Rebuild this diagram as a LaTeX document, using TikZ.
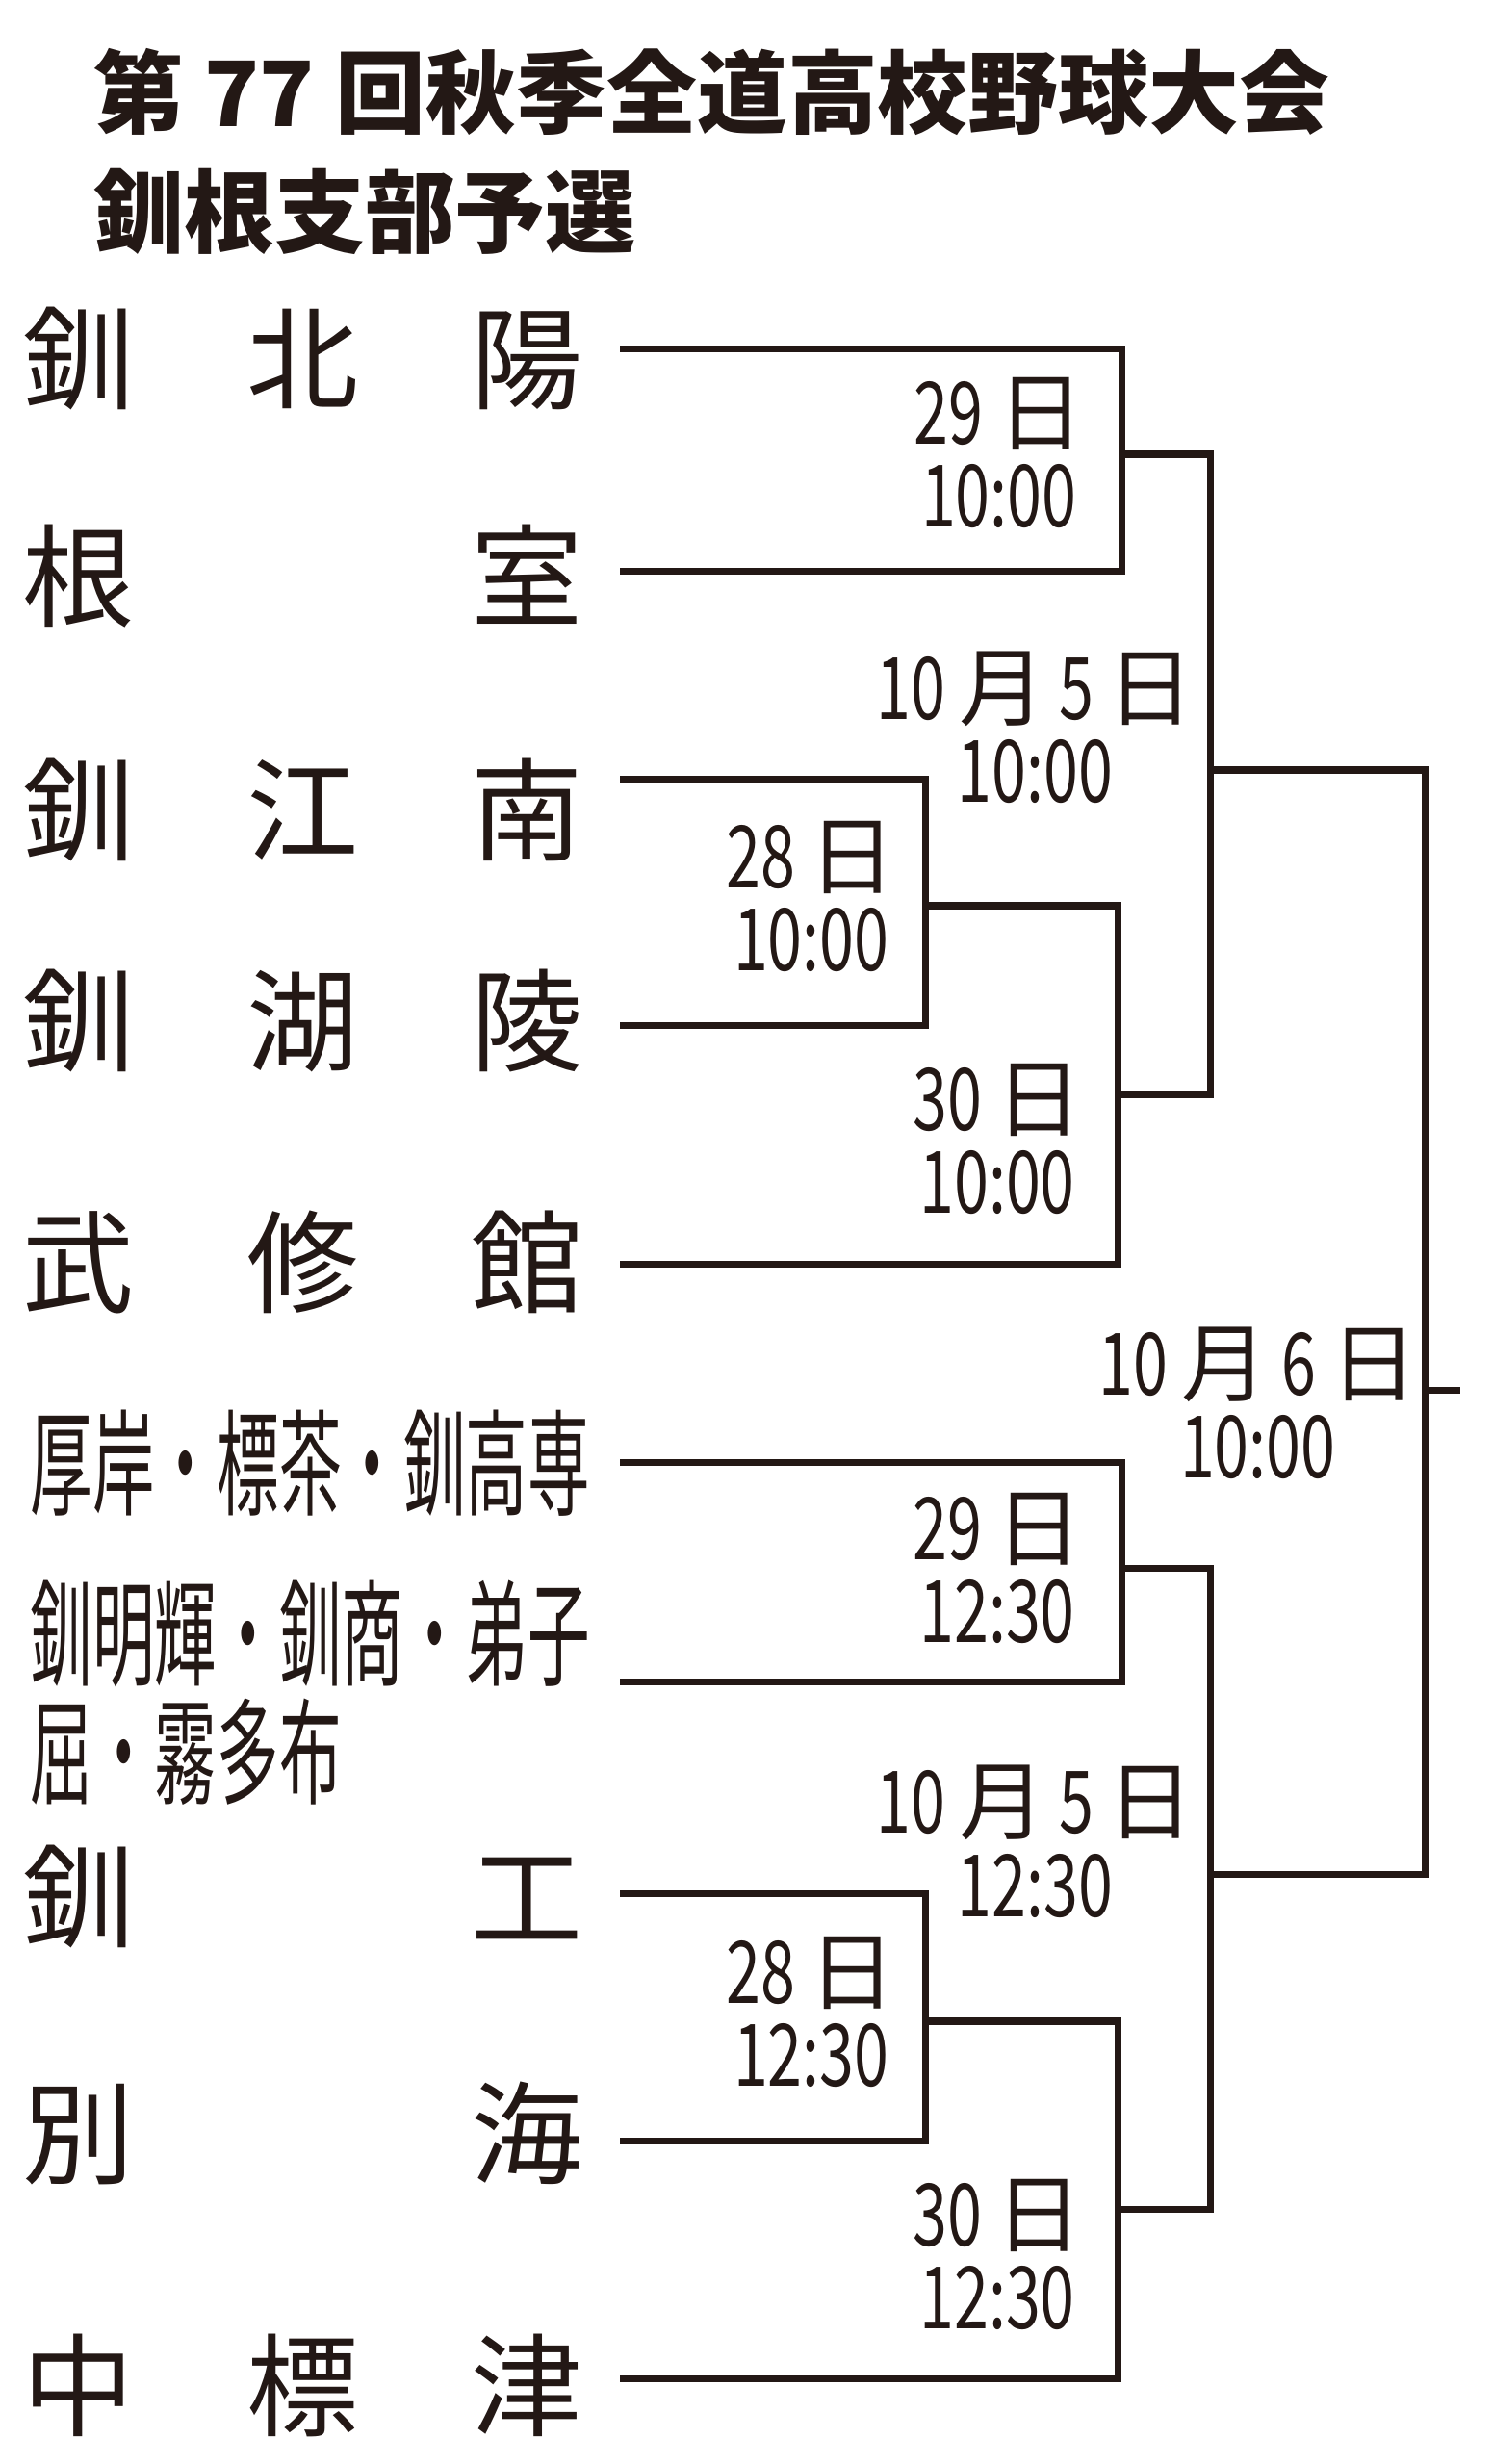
\documentclass[tikz,border=0pt]{standalone}
\usepackage{fontspec}
\setmainfont{Noto Sans CJK JP}
\newfontfamily\teamfont{Noto Sans CJK JP}
\newfontfamily\narrowfont[FakeStretch=0.54]{Noto Sans CJK JP}
\newfontfamily\datefont[FakeStretch=0.72]{Noto Sans CJK JP}
\newfontfamily\dayfont{Noto Sans CJK JP}
\newcommand{\kanji}[1]{{\dayfont #1}}
\definecolor{ink}{RGB}{35,24,21}

\begin{document}
\begin{tikzpicture}[
x=0.016395cm, y=-0.016395cm,
every node/.style={inner sep=0pt, text=ink},
titlenode/.style={anchor=north west, align=left, font=\fontsize{26.7}{35.4}\selectfont\bfseries},
teamnode/.style={anchor=west, text width=5.82cm, align=left, font=\teamfont\fontsize{33}{33}\selectfont},
smallnode/.style={anchor=west, align=left, font=\narrowfont\fontsize{34}{35}\selectfont},
datenode/.style={align=center, font=\datefont\fontsize{25.5}{24.5}\selectfont},
bracket/.style={draw=ink, line width=2.1pt},
]
    \fill[white] (0,0) rectangle (946,1561.5);
    \useasboundingbox (0,0) rectangle (946,1561.5);

    \node[titlenode](title) at (59,30) {第 77 回秋季全道高校野球大会\\釧根支部予選};

    % schools
    \node[teamnode](t1) at (14,227) {釧\hfill 北\hfill 陽};
    \node[teamnode](t2) at (14,365) {根\hfill 室};
    \node[teamnode](t3) at (14,513) {釧\hfill 江\hfill 南};
    \node[teamnode](t4) at (14,647) {釧\hfill 湖\hfill 陵};
    \node[teamnode](t5) at (14,800) {武\hfill 修\hfill 館};
    \node[smallnode](t6) at (19,927) {厚岸・標茶・釧高専};
    \node[smallnode](t7) at (19,1073) {釧明輝・釧商・弟子\\屈・霧多布};
    \node[teamnode](t8) at (14,1202) {釧\hfill 工};
    \node[teamnode](t9) at (14,1352) {別\hfill 海};
    \node[teamnode](t10) at (14,1512) {中\hfill 標\hfill 津};

    \coordinate (e1) at (393,221);
    \coordinate (e2) at (393,362);
    \coordinate (e3) at (393,494);
    \coordinate (e4) at (393,650);
    \coordinate (e5) at (393,801);
    \coordinate (e6) at (393,927);
    \coordinate (e7) at (393,1066);
    \coordinate (e8) at (393,1200);
    \coordinate (e9) at (393,1357);
    \coordinate (e10) at (393,1507.5);

    % games
    \coordinate (m1) at (711,288);
    \coordinate (m2) at (586.5,574);
    \coordinate (m3) at (708.5,694);
    \coordinate (m4) at (711,994);
    \coordinate (m5) at (586.5,1281);
    \coordinate (m6) at (708.5,1400);
    \coordinate (m7) at (767,488);
    \coordinate (m8) at (767,1188);
    \coordinate (m9) at (903,881);
    \coordinate (win) at (925,881);

    \draw[bracket] (e1) -| (m1) |- (e2);
    \draw[bracket] (e3) -| (m2) |- (e4);
    \draw[bracket] (m2) -| (m3) |- (e5);
    \draw[bracket] (m1) -| (m7) |- (m3);
    \draw[bracket] (e6) -| (m4) |- (e7);
    \draw[bracket] (e8) -| (m5) |- (e9);
    \draw[bracket] (m5) -| (m6) |- (e10);
    \draw[bracket] (m4) -| (m8) |- (m6);
    \draw[bracket] (m7) -| (m9) |- (m8);
    \draw[bracket] (m9) -- (win);

    % dates
    \node[datenode](d1) at (633,287) {29 \kanji{日}\\10:00};
    \node[datenode](d2) at (656,461) {10 \kanji{月} 5 \kanji{日}\\10:00};
    \node[datenode](d3) at (514,568) {28 \kanji{日}\\10:00};
    \node[datenode](d4) at (632,722) {30 \kanji{日}\\10:00};
    \node[datenode](d5) at (797,889) {10 \kanji{月} 6 \kanji{日}\\10:00};
    \node[datenode](d6) at (632,994) {29 \kanji{日}\\12:30};
    \node[datenode](d7) at (656,1167) {10 \kanji{月} 5 \kanji{日}\\12:30};
    \node[datenode](d8) at (514,1275) {28 \kanji{日}\\12:30};
    \node[datenode](d9) at (632,1429) {30 \kanji{日}\\12:30};
\end{tikzpicture}
\end{document}
